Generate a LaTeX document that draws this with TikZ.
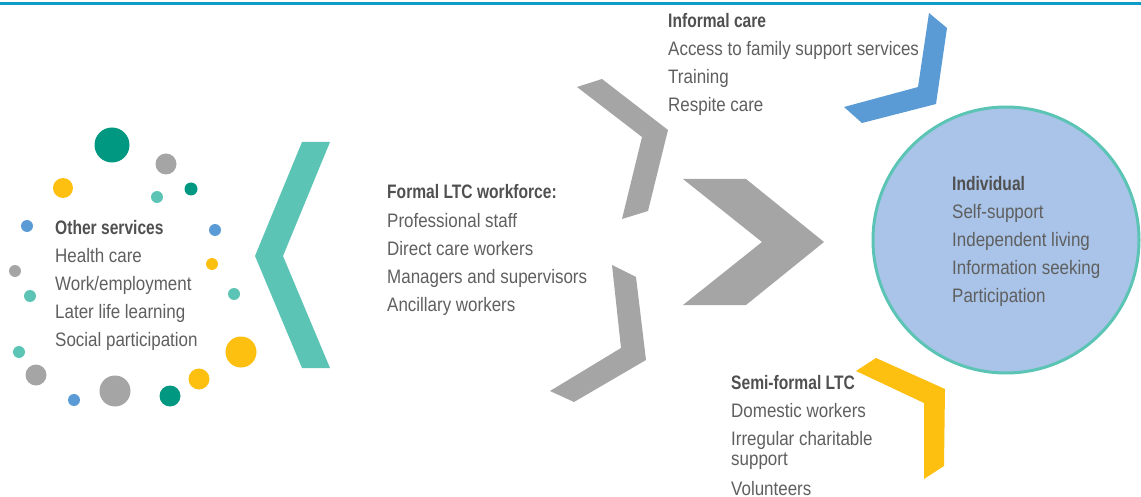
\documentclass[tikz,border=0pt]{standalone}
\usepackage{fontspec}
\setmainfont[FakeStretch=0.87, BoldFeatures={FakeStretch=0.80}]{Liberation Sans}
\usetikzlibrary{positioning}

\definecolor{topblue}{RGB}{14,157,200}
\definecolor{tealdark}{RGB}{0,152,128}
\definecolor{teallight}{RGB}{92,196,180}
\definecolor{sunyellow}{RGB}{253,192,16}
\definecolor{midgray}{RGB}{165,165,165}
\definecolor{dotblue}{RGB}{91,155,213}
\definecolor{indivblue}{RGB}{169,196,232}
\definecolor{txtgray}{RGB}{95,95,95}
\definecolor{hdgray}{RGB}{80,80,80}

\begin{document}
\begin{tikzpicture}[
  x=1pt, y=-1pt,
  % base anchor sits on the last line of the list
  lst/.style={anchor=base west, align=left, inner sep=0pt, text=txtgray,
    font=\fontsize{19.5}{28}\selectfont},
  chev/.style={draw=none}
]
\useasboundingbox (0,0) rectangle (1141,497);

% --- top rule ---
\draw[topblue, line width=3pt] (0,3.5) -- (1141,3.5);

% --- 1. Other services: ring of dots ---
\foreach \x/\y/\r/\c in {
  112/145/17.5/tealdark, 166/164/10.5/midgray, 63/188/10/sunyellow,
  157/197/6/teallight, 191/189/6.5/tealdark, 27/226/6/dotblue,
  215/230/6/dotblue, 212/264/6/sunyellow, 15/271/6/midgray,
  30/296/6/teallight, 234/294/6/teallight, 19/352/6/teallight,
  241/352/15.5/sunyellow, 36/375/10.5/midgray, 199/379/10.5/sunyellow,
  115/391/15.5/midgray, 74/400/6/dotblue, 170/396/10.5/tealdark}
  \fill[\c] (\x,\y) circle (\r);
\node[lst] (other) at (55,346)
  {{\color{hdgray}\bfseries Other services}\\Health care\\Work/employment\\
   Later life learning\\Social participation};

% --- 2. Teal chevron ---
\fill[chev, teallight] (302,142) -- (330,142) -- (283,256) -- (330,368)
  -- (302,368) -- (255,256) -- cycle;

% --- 3. Formal LTC workforce ---
\node[lst] (formal) at (387,311)
  {{\color{hdgray}\bfseries Formal LTC workforce:}\\Professional staff\\
   Direct care workers\\Managers and supervisors\\Ancillary workers};

% gray chevrons
\fill[chev, midgray] (577,87) -- (602,79) -- (668,130) -- (648,211)
  -- (622,219) -- (642,137) -- cycle;
\fill[chev, midgray] (683,179) -- (746,179) -- (824,242) -- (746,305)
  -- (683,305) -- (762,242) -- cycle;
\fill[chev, midgray] (612,265) -- (636,277) -- (646,360) -- (574,402)
  -- (550,391) -- (621,348) -- cycle;

% --- 4. Informal care ---
\node[lst] (informal) at (668,111.5)
  {{\color{hdgray}\bfseries Informal care}\\Access to family support services\\
   Training\\Respite care};
\fill[chev, dotblue] (929,13) -- (947,28) -- (936,104) -- (862,123)
  -- (844,107) -- (918,87) -- cycle;

% --- 5. Semi-formal LTC ---
\node[lst] (semiformal) at (731,495)
  {{\color{hdgray}\bfseries Semi-formal LTC}\\Domestic workers\\
   Irregular charitable\\[-8pt]support\\[2pt]Volunteers};
\fill[chev, sunyellow] (876,358) -- (945,389) -- (944,466) -- (924,479)
  -- (924,403) -- (856,371) -- cycle;

% --- 6. Individual ---
\node[circle, draw=teallight, line width=3pt, fill=indivblue,
  minimum size=266pt, inner sep=0pt] (indivcircle) at (1006,240) {};
\node[lst] (individual) at (952,302)
  {{\color{hdgray}\bfseries Individual}\\Self-support\\Independent living\\
   Information seeking\\Participation};

\end{tikzpicture}
\end{document}
